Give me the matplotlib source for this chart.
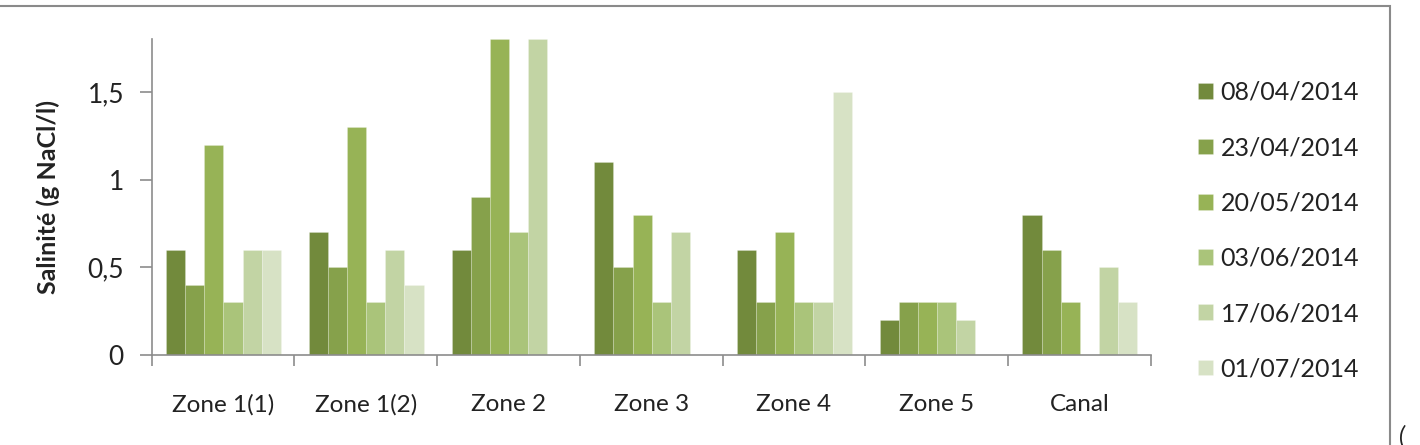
import numpy as np
import matplotlib
matplotlib.use("Agg")
import matplotlib.pyplot as plt
from matplotlib.patches import Rectangle

categories = ["Zone 1(1)", "Zone 1(2)", "Zone 2", "Zone 3", "Zone 4", "Zone 5", "Canal"]
dates = ["08/04/2014", "23/04/2014", "20/05/2014", "03/06/2014", "17/06/2014", "01/07/2014"]
s_0804 = [0.6, 0.7, 0.6, 1.1, 0.6, 0.2, 0.8]
s_2304 = [0.4, 0.5, 0.9, 0.5, 0.3, 0.3, 0.6]
s_2005 = [1.2, 1.3, 1.8, 0.8, 0.7, 0.3, 0.3]
s_0306 = [0.3, 0.3, 0.7, 0.3, 0.3, 0.3, np.nan]
s_1706 = [0.6, 0.6, 1.8, 0.7, 0.3, 0.2, 0.5]
s_0107 = [0.6, 0.4, np.nan, np.nan, 1.5, np.nan, 0.3]
series = [s_0804, s_2304, s_2005, s_0306, s_1706, s_0107]
yticks = [0, 0.5, 1, 1.5]
ytick_labels = ["0", "0,5", "1", "1,5"]

colors = ["#728A3C", "#86A14B", "#97B356", "#AAC47A", "#C2D4A4", "#D7E2C5"]

plt.rcParams['font.family'] = ['Lato', 'DejaVu Sans']
W, H = 1420, 445
fig = plt.figure(figsize=(W / 100, H / 100), dpi=100)
ax = fig.add_axes([151.7 / W, 1 - 355 / H, (1150.7 - 151.7) / W, (355 - 39.3) / H])

x = np.arange(len(categories))
bw = 0.134
for i, (vals, c, lab) in enumerate(zip(series, colors, dates)):
    ax.bar(x + (i - 2.5) * bw + 0.003, vals, width=bw, color=c, label=lab,
           edgecolor=(1, 1, 1, 0.35), linewidth=0.4)

ax.set_xlim(-0.5, len(categories) - 0.5)
ax.set_ylim(0, 1.8)
axis_col = "#8C8C8C"
for s in ["top", "right"]:
    ax.spines[s].set_visible(False)
for s in ["left", "bottom"]:
    ax.spines[s].set_color(axis_col)
    ax.spines[s].set_linewidth(1.2)

ax.set_yticks(yticks)
ax.set_yticklabels(ytick_labels)
ax.tick_params(axis="y", direction="out", length=9, width=1.2, color=axis_col,
               pad=11, labelsize=19, labelcolor="#222222")
ax.set_xticks(np.arange(-0.5, len(categories), 1.0))
ax.set_xticklabels([])
ax.tick_params(axis="x", which="major", direction="out", length=8, width=1.2, color=axis_col)
ax.set_xticks(x, minor=True)
ax.set_xticklabels(categories, minor=True)
ax.tick_params(axis="x", which="minor", length=0, pad=28, labelsize=17.5, labelcolor="#222222")

fig.text(48 / W, 1 - 197 / H, "Salinité (g NaCl/l)", rotation=90, ha="center", va="center",
         fontsize=18, fontweight="bold", color="#222222")

leg = ax.legend(loc="upper left", bbox_to_anchor=(1198 / W, 1 - 81 / H),
                bbox_transform=fig.transFigure, frameon=False, fontsize=18,
                handlelength=0.6, handleheight=0.6, handletextpad=0.3,
                labelspacing=1.29, borderpad=0, borderaxespad=0,
                labelcolor="#222222")

# outer chart frame
fig.patches.append(Rectangle((-5 / W, -0.1), (1390 + 5) / W, 1.1 - 6 / H,
                             transform=fig.transFigure, fill=False,
                             edgecolor="#8A8A8A", linewidth=1.5))
fig.text(1399 / W, 1 - 436 / H, "(", fontsize=17, style="italic", color="#222222",
         ha="left", va="center")

fig.savefig("out.png", dpi=100)
